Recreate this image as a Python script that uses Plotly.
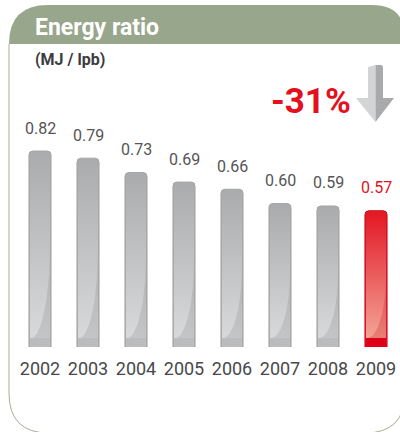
import numpy as np
import plotly.graph_objects as go

# Energy ratio (MJ per lpb), 2002-2009
years = ["2002", "2003", "2004", "2005", "2006", "2007", "2008", "2009"]
ratio = [0.82, 0.79, 0.73, 0.69, 0.66, 0.60, 0.59, 0.57]
value_labels = ["0.82", "0.79", "0.73", "0.69", "0.66", "0.60", "0.59", "0.57"]
change_label = "-31%"
title_text = "Energy ratio"
unit_text = "(MJ / lpb)"

W, H = 400, 432
L, R, T, B = 16, 0, 100, 85
PW, PH = W - L - R, H - T - B
Y_PER_PX = 1 / 239          # value units per pixel on the y axis
X_PER_PX = 1 / (PW / len(years))
BARGAP = 0.54
HALF = (1 - BARGAP) / 2

GREEN = "#98A68C"
GREY_TXT = "#545557"
RED = "#E3101E"

# per-bar styling: [top colour, bottom colour, foot band, outline]
GREY_STYLE = ["#ABACAE", "#D8D9DB", "#BBBCBE", "#A3A4A6"]
RED_STYLE = ["#E31A26", "#F3A397", "#DF0019", "#C9071A"]


def px(x):
    return (x - L) / PW


def py(y):
    return (H - B - y) / PH


def path(points_cmds):
    out = []
    for cmd, *pts in points_cmds:
        coords = " ".join(f"{px(pts[i]):.5f},{py(pts[i + 1]):.5f}" for i in range(0, len(pts), 2))
        out.append(f"{cmd} {coords}".strip())
    return " ".join(out)


styles = [GREY_STYLE] * (len(years) - 1) + [RED_STYLE]
xs = list(range(len(years)))

fig = go.Figure()

# base bars: rounded tops and outline
fig.add_trace(go.Bar(
    x=xs, y=ratio, width=1 - BARGAP,
    marker=dict(color=[s[0] for s in styles],
                line=dict(color=[s[3] for s in styles], width=1),
                cornerradius=4),
    hoverinfo="skip",
))

inset_x = 1.0 * X_PER_PX
foot = 9 * Y_PER_PX
theta = np.linspace(0, np.pi / 2, 24)
for i, v in enumerate(ratio):
    top, bottom, band, _ = styles[i]
    x0, x1 = i - HALF + inset_x, i + HALF - inset_x
    yt = v - 4 * Y_PER_PX
    # vertical gradient body
    fig.add_trace(go.Scatter(
        x=[x0, x1, x1, x0, x0], y=[foot, foot, yt, yt, foot],
        mode="lines", line=dict(width=0), fill="toself",
        fillgradient=dict(type="vertical", colorscale=[[0, bottom], [1, top]]),
        hoverinfo="skip",
    ))
    # glossy sweep: slightly darker region right of the curve
    yc = 0.52 * v
    cx = x0 + X_PER_PX
    cw = x1 - cx
    ch = yc - foot
    curve_x = list(cx + cw * np.cos(theta))
    curve_y = list(yc - ch * np.sin(theta))
    shade = "rgba(0,0,0,0.09)" if styles[i] is GREY_STYLE else "rgba(200,20,20,0.25)"
    fig.add_trace(go.Scatter(
        x=curve_x + [x1, x1], y=curve_y + [foot, yc],
        mode="lines", line=dict(width=0), fill="toself", fillcolor=shade,
        hoverinfo="skip",
    ))
    # foot band
    fig.add_trace(go.Scatter(
        x=[x0, x1, x1, x0, x0], y=[0, 0, foot, foot, 0],
        mode="lines", line=dict(width=0), fill="toself", fillcolor=band,
        hoverinfo="skip",
    ))

shapes = [
    # card outline
    dict(
        type="path", xref="paper", yref="paper",
        path=path([("M", 9, 44), ("L", 9, 393), ("Q", 9, 433, 49, 433),
                   ("L", 365, 433), ("Q", 405, 433, 405, 393), ("L", 405, 44)]),
        line=dict(color="#A3AF97", width=1), fillcolor="rgba(0,0,0,0)", layer="below",
    ),
    # header band
    dict(
        type="path", xref="paper", yref="paper",
        path=path([("M", 9, 44), ("Q", 9, 5, 48, 5), ("L", 372, 5),
                   ("Q", 405, 5, 405, 38), ("L", 405, 44), ("Z",)]),
        line=dict(width=0), fillcolor=GREEN, layer="below",
    ),
    # down arrow, light left half
    dict(
        type="path", xref="paper", yref="paper",
        path=path([("M", 368, 67), ("L", 375.5, 65), ("L", 375.5, 122), ("L", 356, 98),
                   ("L", 368, 98), ("Z",)]),
        line=dict(width=0), fillcolor="#D3D4D6", layer="above",
    ),
    # down arrow, darker right half
    dict(
        type="path", xref="paper", yref="paper",
        path=path([("M", 375.5, 65), ("L", 381, 65), ("Q", 383, 65, 383, 68), ("L", 383, 98),
                   ("L", 394, 98), ("L", 375.5, 122), ("Z",)]),
        line=dict(width=0), fillcolor="#A9AAAC", layer="above",
    ),
]

annotations = [
    dict(x=px(33), y=py(27), xref="paper", yref="paper", text=f"<b>{title_text}</b>",
         showarrow=False, xanchor="left", yanchor="middle",
         font=dict(family="Roboto", size=23, color="white")),
    dict(x=px(33), y=py(59), xref="paper", yref="paper", text=f"<b>{unit_text}</b>",
         showarrow=False, xanchor="left", yanchor="middle",
         font=dict(family="Roboto", size=16, color="#3C3C3E")),
    dict(x=px(353), y=py(102), xref="paper", yref="paper", text=f"<b>{change_label}</b>",
         showarrow=False, xanchor="right", yanchor="middle",
         font=dict(family="Roboto", size=35, color=RED)),
]

# value labels above each bar
for i, (v, lab) in enumerate(zip(ratio, value_labels)):
    annotations.append(
        dict(x=i, y=v, xref="x", yref="y", text=lab, showarrow=False,
             yanchor="middle", yshift=23,
             font=dict(family="Roboto", size=16,
                       color=RED if i == len(years) - 1 else GREY_TXT))
    )

fig.update_layout(
    width=W, height=H,
    margin=dict(l=L, r=R, t=T, b=B),
    paper_bgcolor="white", plot_bgcolor="white",
    showlegend=False,
    shapes=shapes,
    annotations=annotations,
    xaxis=dict(range=[-0.5, len(years) - 0.5], tickmode="array", tickvals=xs,
               ticktext=years, showgrid=False, zeroline=False, showline=False,
               ticks="", ticklabelstandoff=9,
               tickfont=dict(family="Roboto", size=18, color="#48484A"),
               fixedrange=True),
    yaxis=dict(range=[0, PH * Y_PER_PX], visible=False, fixedrange=True),
)

fig.write_html("out.html", config={"displayModeBar": False})
